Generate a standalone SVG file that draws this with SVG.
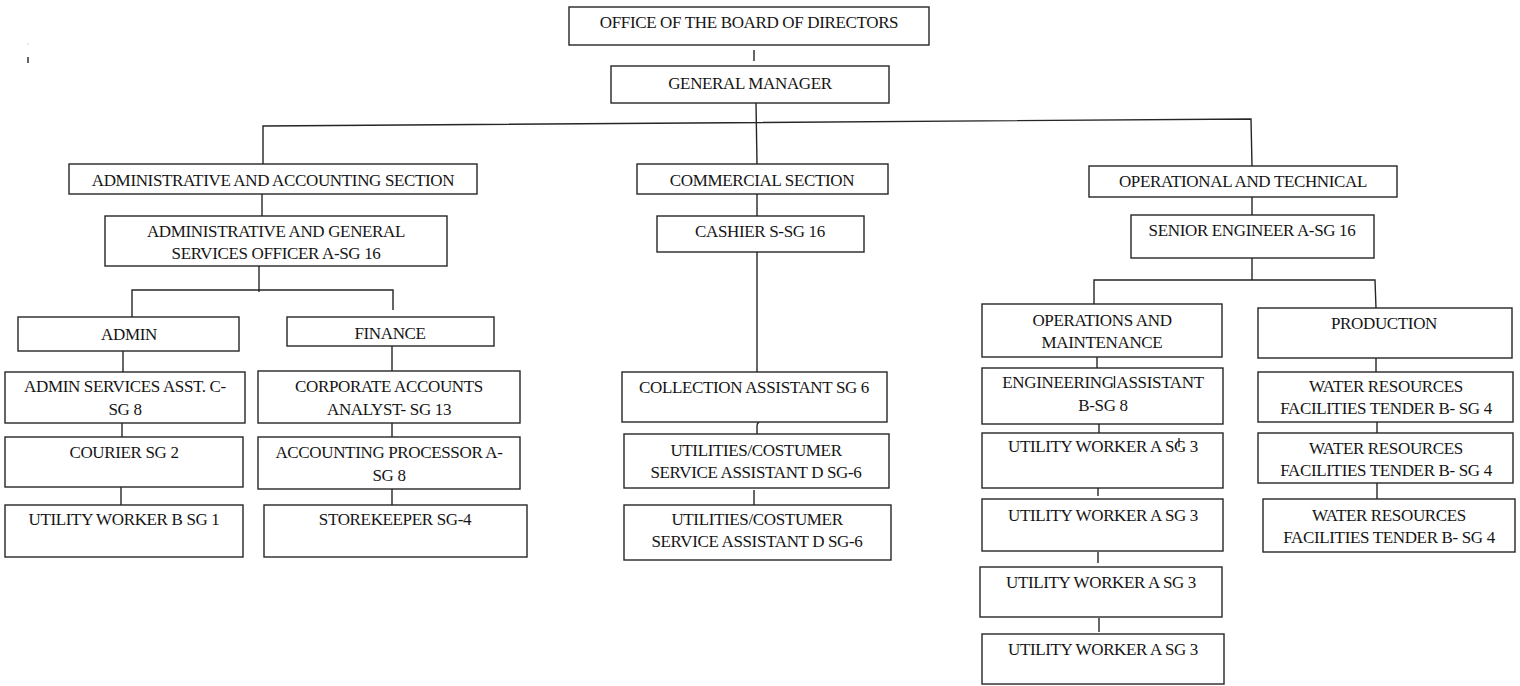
<svg xmlns="http://www.w3.org/2000/svg" width="1520" height="686" viewBox="0 0 1520 686">
<style>
  .box { fill: #ffffff; stroke: #262626; stroke-width: 1.4; }
  .t { font-family: "Liberation Serif", "Times New Roman", serif; font-size: 17px; letter-spacing: -0.35px; fill: #151515; text-anchor: middle; }
  .c { stroke: #262626; stroke-width: 1.4; fill: none; }
</style>
<rect x="0" y="0" width="1520" height="686" fill="#ffffff"/>

<g id="connectors">
  <line class="c" x1="754" y1="50" x2="754" y2="61"/>
  <line class="c" x1="756" y1="103" x2="757" y2="164"/>
  <polyline class="c" points="263,164 263,126 1251,119 1252,166"/>
  <line class="c" x1="262" y1="194" x2="262" y2="216"/>
  <line class="c" x1="259" y1="266" x2="259" y2="292"/>
  <polyline class="c" points="132,317 132,290 393,290 393,310"/>
  <line class="c" x1="123" y1="351" x2="123" y2="372"/>
  <line class="c" x1="392" y1="346" x2="392" y2="371"/>
  <line class="c" x1="122" y1="423" x2="122" y2="437"/>
  <line class="c" x1="392" y1="423" x2="392" y2="437"/>
  <line class="c" x1="121" y1="487" x2="121" y2="505"/>
  <line class="c" x1="392" y1="489" x2="392" y2="505"/>
  <line class="c" x1="757" y1="194" x2="757" y2="216"/>
  <line class="c" x1="757" y1="252" x2="757" y2="372"/>
  <path class="c" d="M757,434 L757,426 Q757,423 759,422"/>
  <line class="c" x1="754" y1="490" x2="754" y2="505"/>
  <line class="c" x1="1252" y1="197" x2="1252" y2="215"/>
  <line class="c" x1="1252" y1="258" x2="1252" y2="280"/>
  <polyline class="c" points="1094,304 1094,280 1375,280 1376,308"/>
  <line class="c" x1="1097" y1="357" x2="1097" y2="368"/>
  <line class="c" x1="1099" y1="424" x2="1099" y2="433"/>
  <line class="c" x1="1098" y1="488" x2="1098" y2="496"/>
  <line class="c" x1="1098" y1="552" x2="1098" y2="563"/>
  <line class="c" x1="1099" y1="618" x2="1099" y2="632"/>
  <line class="c" x1="1376" y1="358" x2="1376" y2="372"/>
  <line class="c" x1="1377" y1="422" x2="1377" y2="433"/>
  <line class="c" x1="1377" y1="483" x2="1377" y2="499"/>
  <line class="c" x1="28" y1="57" x2="28" y2="63"/>
  <circle cx="28" cy="44" r="0.6" fill="#999999"/>
</g>

<g id="n-board"><rect class="box" x="569" y="7" width="360" height="38"/><text class="t" x="749" y="28">OFFICE OF THE BOARD OF DIRECTORS</text></g>
<g id="n-gm"><rect class="box" x="611" y="66" width="278" height="37"/><text class="t" x="750" y="89">GENERAL MANAGER</text></g>

<g id="n-aas"><rect class="box" x="69" y="164" width="408" height="30"/><text class="t" x="273" y="186">ADMINISTRATIVE AND ACCOUNTING SECTION</text></g>
<g id="n-commercial"><rect class="box" x="637" y="164" width="251" height="30"/><text class="t" x="762" y="186">COMMERCIAL SECTION</text></g>
<g id="n-optech"><rect class="box" x="1089" y="166" width="308" height="31"/><text class="t" x="1243" y="187">OPERATIONAL AND TECHNICAL</text></g>

<g id="n-officer"><rect class="box" x="105" y="216" width="342" height="50"/><text class="t" x="276" y="237">ADMINISTRATIVE AND GENERAL</text><text class="t" x="276" y="259">SERVICES OFFICER A-SG 16</text></g>
<g id="n-admin"><rect class="box" x="18" y="317" width="221" height="34"/><text class="t" x="129" y="340">ADMIN</text></g>
<g id="n-finance"><rect class="box" x="287" y="317" width="207" height="29"/><text class="t" x="390" y="339">FINANCE</text></g>
<g id="n-adminasst"><rect class="box" x="5" y="372" width="240" height="51"/><text class="t" x="125" y="392">ADMIN SERVICES ASST. C-</text><text class="t" x="125" y="415">SG 8</text></g>
<g id="n-corp"><rect class="box" x="258" y="371" width="262" height="52"/><text class="t" x="389" y="392">CORPORATE ACCOUNTS</text><text class="t" x="389" y="415">ANALYST- SG 13</text></g>
<g id="n-courier"><rect class="box" x="5" y="437" width="238" height="50"/><text class="t" x="124" y="458">COURIER SG 2</text></g>
<g id="n-accproc"><rect class="box" x="258" y="437" width="262" height="52"/><text class="t" x="389" y="458">ACCOUNTING PROCESSOR A-</text><text class="t" x="389" y="481">SG 8</text></g>
<g id="n-uwb"><rect class="box" x="5" y="505" width="238" height="52"/><text class="t" x="124" y="525">UTILITY WORKER B SG 1</text></g>
<g id="n-store"><rect class="box" x="264" y="505" width="263" height="52"/><text class="t" x="395" y="525">STOREKEEPER SG-4</text></g>

<g id="n-cashier"><rect class="box" x="657" y="216" width="207" height="36"/><text class="t" x="760" y="237">CASHIER S-SG 16</text></g>
<g id="n-collection"><rect class="box" x="622" y="372" width="265" height="50"/><text class="t" x="754" y="393">COLLECTION ASSISTANT SG 6</text></g>
<g id="n-util1"><rect class="box" x="624" y="434" width="265" height="54"/><text class="t" x="756" y="456">UTILITIES/COSTUMER</text><text class="t" x="756" y="478">SERVICE ASSISTANT D SG-6</text></g>
<g id="n-util2"><rect class="box" x="624" y="505" width="267" height="55"/><text class="t" x="757" y="525">UTILITIES/COSTUMER</text><text class="t" x="757" y="547">SERVICE ASSISTANT D SG-6</text></g>

<g id="n-senior"><rect class="box" x="1131" y="215" width="243" height="43"/><text class="t" x="1252" y="236">SENIOR ENGINEER A-SG 16</text></g>
<g id="n-om"><rect class="box" x="982" y="304" width="240" height="53"/><text class="t" x="1102" y="326">OPERATIONS AND</text><text class="t" x="1102" y="348">MAINTENANCE</text></g>
<g id="n-production"><rect class="box" x="1258" y="308" width="254" height="50"/><text class="t" x="1384" y="329">PRODUCTION</text></g>
<g id="n-eng"><rect class="box" x="982" y="368" width="241" height="56"/><text class="t" x="1103" y="388">ENGINEERING ASSISTANT</text><text class="t" x="1103" y="411">B-SG 8</text><line class="c" x1="1114.5" y1="376" x2="1114.5" y2="388"/></g>
<g id="n-uw1"><rect class="box" x="982" y="433" width="241" height="55"/><text class="t" x="1103" y="452">UTILITY WORKER A SG 3</text><line class="c" x1="1179" y1="438" x2="1179" y2="447"/></g>
<g id="n-uw2"><rect class="box" x="982" y="499" width="241" height="52"/><text class="t" x="1103" y="521">UTILITY WORKER A SG 3</text></g>
<g id="n-uw3"><rect class="box" x="980" y="567" width="242" height="50"/><text class="t" x="1101" y="588">UTILITY WORKER A SG 3</text></g>
<g id="n-uw4"><rect class="box" x="982" y="634" width="242" height="50"/><text class="t" x="1103" y="655">UTILITY WORKER A SG 3</text></g>
<g id="n-wr1"><rect class="box" x="1258" y="372" width="255" height="50"/><text class="t" x="1386" y="392">WATER RESOURCES</text><text class="t" x="1386" y="414">FACILITIES TENDER B- SG 4</text></g>
<g id="n-wr2"><rect class="box" x="1258" y="433" width="255" height="50"/><text class="t" x="1386" y="454">WATER RESOURCES</text><text class="t" x="1386" y="476">FACILITIES TENDER B- SG 4</text></g>
<g id="n-wr3"><rect class="box" x="1263" y="499" width="252" height="53"/><text class="t" x="1389" y="521">WATER RESOURCES</text><text class="t" x="1389" y="543">FACILITIES TENDER B- SG 4</text></g>
</svg>
